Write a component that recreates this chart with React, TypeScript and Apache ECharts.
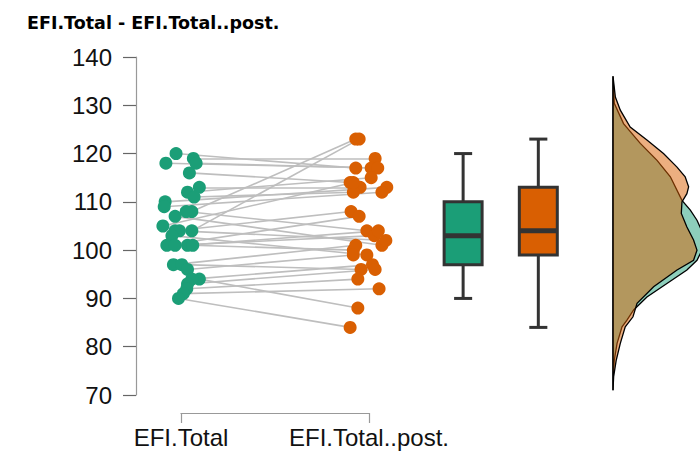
import React, { useEffect, useRef } from "react";
import * as echarts from "echarts";

const titleText = "EFI.Total - EFI.Total..post.";
const categories = ["EFI.Total", "EFI.Total..post."];
const yMin = 70;
const yMax = 140;
const yStep = 10;

// paired observations (index i of pre is linked to index i of post)
const preValues = [120, 119, 118, 118, 116, 113, 112, 111, 110, 109, 108, 108, 107, 105, 104, 104, 104, 103, 101, 101, 101, 101, 97, 97, 96, 94, 94, 93, 92, 91, 90];
const preJitter = [0.973, 1.065, 1.08, 0.919, 1.044, 1.097, 1.034, 1.069, 0.915, 0.91, 1.057, 1.027, 0.968, 0.903, 1.057, 0.968, 0.991, 0.951, 0.924, 0.968, 1.034, 1.062, 0.959, 1.004, 1.034, 1.097, 1.057, 1.034, 1.03, 1.012, 0.986];
const postValues = [117, 119, 117, 117, 114, 113, 115, 112, 113, 112, 123, 104, 101, 114, 123, 108, 102, 99, 107, 103, 104, 100, 101, 96, 99, 88, 97, 96, 94, 92, 84];
const postJitter = [1.929, 2.032, 2.011, 2.046, 1.899, 1.952, 2.011, 1.916, 2.094, 2.068, 1.929, 1.988, 2.068, 1.916, 1.947, 1.904, 2.089, 1.988, 1.947, 2.028, 2.049, 1.916, 1.929, 1.957, 1.916, 1.94, 2.018, 2.032, 1.94, 2.053, 1.899];

// boxplots: [min, Q1, median, Q3, max]
const boxPositions = [2.5, 2.9];
const boxStats = [
  [90, 97, 103, 110, 120],
  [84, 99, 104, 113, 123],
];

// densities (value, density)
const densPreLevels = [71, 74, 77.2, 80.7, 84.1, 85.5, 87.6, 90.3, 93.1, 95.9, 97.9, 100.7, 102.1, 103.5, 106.2, 108.3, 110.3, 115.2, 118.6, 122.1, 126.2, 130.4, 136];
const densPre = [0, 0.0001, 0.0006, 0.0019, 0.0042, 0.0065, 0.0096, 0.0158, 0.0251, 0.0344, 0.0391, 0.0422, 0.0426, 0.0418, 0.0391, 0.036, 0.0321, 0.0267, 0.0205, 0.0127, 0.0049, 0.0006, 0];
const densPostLevels = [71, 73.8, 77.2, 80.7, 84.1, 86.2, 89.0, 92.4, 95.9, 97.9, 100.0, 102.1, 104.8, 107.6, 110.0, 111.7, 113.1, 115.2, 117.2, 120.0, 122.8, 125.5, 129.0, 131.7, 136];
const densPost = [0, 0.0003, 0.0015, 0.0034, 0.0057, 0.0093, 0.0112, 0.0189, 0.0298, 0.0375, 0.0391, 0.0375, 0.0344, 0.0318, 0.0321, 0.0344, 0.0352, 0.0336, 0.0298, 0.0235, 0.0158, 0.008, 0.0034, 0.0011, 0];

const GREEN = "#1B9E77";
const ORANGE = "#D95F02";
const boxColors = [GREEN, ORANGE];
const FONT = "'Liberation Sans', Arial, Helvetica, sans-serif";

function densitySeries(levels: number[], dens: number[], fill: string, z: number) {
  const pts = levels.map((v, i) => [dens[i], v]);
  return {
    type: "custom",
    xAxisIndex: 1,
    yAxisIndex: 1,
    z,
    silent: true,
    clip: false,
    data: pts,
    renderItem: (params: any, api: any) => {
      if (params.dataIndex !== 0) return null;
      return {
        type: "polygon",
        shape: { points: pts.map((p) => api.coord(p)) },
        style: { fill, stroke: "#000", lineWidth: 1.3 },
      };
    },
  };
}

export default function App() {
  const ref = useRef<HTMLDivElement>(null);
  useEffect(() => {
    if (!ref.current) return;
    const chart = echarts.init(ref.current, undefined, { renderer: "svg" });
    const boxW = 0.202;
    const capW = 0.096;
    const option: any = {
      animation: false,
      backgroundColor: "#fff",
      title: {
        text: titleText,
        left: 22,
        top: 9,
        textStyle: { fontFamily: "'DejaVu Sans', Verdana, sans-serif", fontWeight: "bold", fontSize: 17.5, color: "#000" },
      },
      grid: [
        { left: 136, right: 0, top: 57, bottom: 63 },
        { left: 613, right: 0, top: 57, bottom: 63 },
        { left: 181, width: 188, top: 412, height: 1 },
      ],
      xAxis: [
        { gridIndex: 0, type: "value", min: 0.76, max: 3.76, show: false },
        { gridIndex: 1, type: "value", min: 0, max: 0.0405, show: false },
        {
          gridIndex: 2,
          type: "category",
          data: categories,
          boundaryGap: false,
          axisLine: { show: true, lineStyle: { color: "#999", width: 1.2 } },
          axisTick: { show: true, length: 10, interval: 0, lineStyle: { color: "#999", width: 1.2 } },
          axisLabel: { fontSize: 24, fontFamily: FONT, color: "#111", margin: 12, interval: 0, showMinLabel: true, showMaxLabel: true, hideOverlap: false },
          splitLine: { show: false },
        },
      ],
      yAxis: [
        {
          gridIndex: 0,
          type: "value",
          min: yMin,
          max: yMax,
          interval: yStep,
          axisLine: { show: true, lineStyle: { color: "#999", width: 1.2 } },
          axisTick: { show: true, length: 13, lineStyle: { color: "#666", width: 1.2 } },
          axisLabel: { fontSize: 24, fontFamily: FONT, color: "#111", margin: 24 },
          splitLine: { show: false },
        },
        { gridIndex: 1, type: "value", min: yMin, max: yMax, show: false },
        { gridIndex: 2, type: "value", show: false },
      ],
      series: [
        {
          type: "lines",
          coordinateSystem: "cartesian2d",
          xAxisIndex: 0,
          yAxisIndex: 0,
          z: 1,
          silent: true,
          lineStyle: { color: "#BEBEBE", width: 1.6, opacity: 1 },
          data: preValues.map((v, i) => ({
            coords: [
              [preJitter[i], v],
              [postJitter[i], postValues[i]],
            ],
          })),
        },
        {
          type: "scatter",
          xAxisIndex: 0,
          yAxisIndex: 0,
          z: 3,
          symbolSize: 13,
          itemStyle: { color: GREEN, opacity: 1 },
          data: preValues.map((v, i) => [preJitter[i], v]),
        },
        {
          type: "scatter",
          xAxisIndex: 0,
          yAxisIndex: 0,
          z: 3,
          symbolSize: 13,
          itemStyle: { color: ORANGE, opacity: 1 },
          data: postValues.map((v, i) => [postJitter[i], v]),
        },
        {
          type: "custom",
          xAxisIndex: 0,
          yAxisIndex: 0,
          z: 4,
          silent: true,
          data: boxPositions.map((p, i) => [p, ...boxStats[i]]),
          renderItem: (params: any, api: any) => {
            const x = api.value(0);
            const mn = api.value(1);
            const q1 = api.value(2);
            const md = api.value(3);
            const q3 = api.value(4);
            const mx = api.value(5);
            const hw = api.size([boxW, 0])[0] / 2;
            const cw = api.size([capW, 0])[0] / 2;
            const c = api.coord([x, md]);
            const pMin = api.coord([x, mn]);
            const pQ1 = api.coord([x, q1]);
            const pQ3 = api.coord([x, q3]);
            const pMax = api.coord([x, mx]);
            const stroke = "#333333";
            const ls = { stroke, lineWidth: 3 };
            return {
              type: "group",
              children: [
                { type: "line", shape: { x1: c[0], y1: pMax[1], x2: c[0], y2: pQ3[1] }, style: ls },
                { type: "line", shape: { x1: c[0], y1: pQ1[1], x2: c[0], y2: pMin[1] }, style: ls },
                { type: "line", shape: { x1: c[0] - cw, y1: pMax[1], x2: c[0] + cw, y2: pMax[1] }, style: ls },
                { type: "line", shape: { x1: c[0] - cw, y1: pMin[1], x2: c[0] + cw, y2: pMin[1] }, style: ls },
                {
                  type: "rect",
                  shape: { x: c[0] - hw, y: pQ3[1], width: hw * 2, height: pQ1[1] - pQ3[1] },
                  style: { fill: boxColors[params.dataIndex], stroke, lineWidth: 3 },
                },
                { type: "line", shape: { x1: c[0] - hw, y1: c[1], x2: c[0] + hw, y2: c[1] }, style: { stroke, lineWidth: 5 } },
              ],
            };
          },
        },
        densitySeries(densPreLevels, densPre, "rgba(27,158,119,0.5)", 2),
        densitySeries(densPostLevels, densPost, "rgba(217,95,2,0.5)", 3),
      ],
    };
    chart.setOption(option);
    return () => chart.dispose();
  }, []);
  return <div ref={ref} style={{ position: "absolute", left: 0, top: 0, width: 700, height: 458 }} />;
}
